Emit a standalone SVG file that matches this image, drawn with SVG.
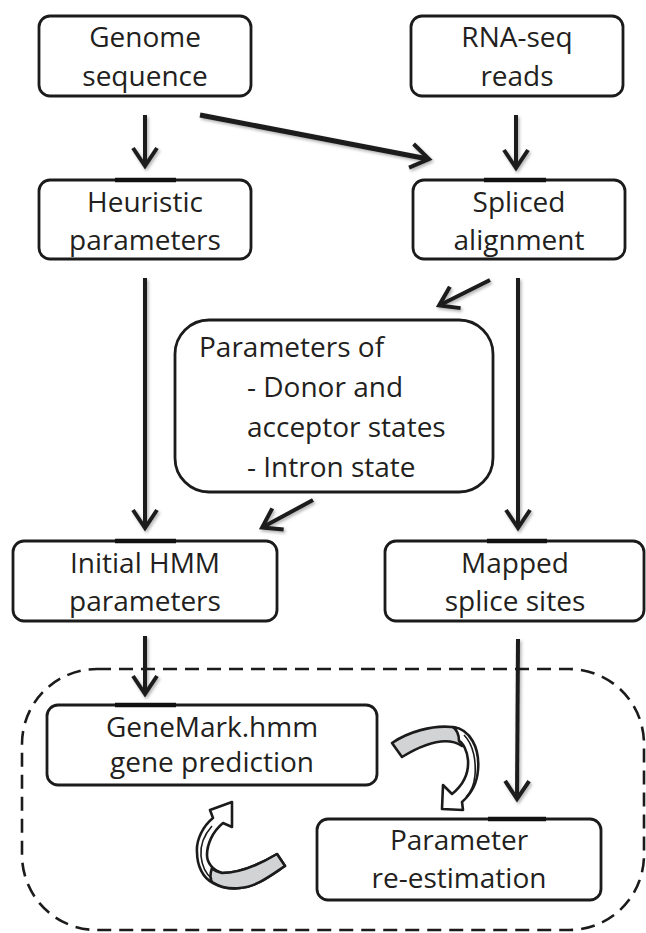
<svg xmlns="http://www.w3.org/2000/svg" width="646" height="933" viewBox="0 0 646 933">
<style>
.box{fill:#fff;stroke:#1b1b1b;stroke-width:2.8}
.tick{stroke:#111;stroke-width:4.5}
.t{font-family:"Open Sans","Liberation Sans",sans-serif;font-size:28px;fill:#231f20;text-anchor:middle}
.ts{font-family:"Open Sans","Liberation Sans",sans-serif;font-size:28px;fill:#231f20;text-anchor:start}
.c{stroke:#1b1b1b;stroke-width:4;fill:none;marker-end:url(#ah)}
.cw{stroke:#1b1b1b;stroke-width:5;fill:none;marker-end:url(#ah)}
.band{fill:#fff;stroke:#1b1b1b;stroke-width:2.6;stroke-linejoin:round}
.gray{fill:#d2d3d5;stroke:#1b1b1b;stroke-width:2.6;stroke-linejoin:round}
.edge{fill:none;stroke:#1b1b1b;stroke-width:1.6}
</style>
<defs>
<marker id="ah" viewBox="-3 -3 26 30" refX="17" refY="12" markerWidth="26" markerHeight="30" markerUnits="userSpaceOnUse" orient="auto" overflow="visible">
<path d="M0,0 L18,12 L0,24" fill="none" stroke="#1b1b1b" stroke-width="4"/>
</marker>
<filter id="sh" x="-20%" y="-20%" width="140%" height="140%">
<feDropShadow dx="1.5" dy="2" stdDeviation="1.5" flood-color="#000" flood-opacity="0.3"/>
</filter>
</defs>
<rect width="646" height="933" fill="#fff"/>

<g id="loop-boundary">
<rect x="22" y="669" width="622" height="261" rx="75" ry="75" fill="none" stroke="#1b1b1b" stroke-width="2.6" stroke-dasharray="14 8"/>
</g>

<g id="connectors" filter="url(#sh)">
<line class="c" x1="145" y1="115" x2="145" y2="165"/>
<line class="c" x1="516" y1="115" x2="516" y2="167"/>
<line class="cw" x1="200" y1="115" x2="428" y2="159"/>
<line class="c" x1="145" y1="278" x2="145" y2="527"/>
<line class="c" x1="518" y1="278" x2="518" y2="527"/>
<line class="c" x1="490" y1="280" x2="440" y2="305"/>
<line class="c" x1="313" y1="500" x2="263" y2="527"/>
<line class="c" x1="145" y1="636" x2="145" y2="693"/>
<line class="c" x1="518" y1="639" x2="517" y2="798"/>
</g>

<g id="genome">
<rect class="box" x="39" y="16" width="212" height="80" rx="11"/>
<text class="t" x="145" y="47">Genome</text>
<text class="t" x="145" y="86">sequence</text>
</g>

<g id="rnaseq">
<rect class="box" x="411" y="16" width="212" height="80" rx="11"/>
<text class="t" x="517" y="47">RNA-seq</text>
<text class="t" x="517" y="86">reads</text>
</g>

<g id="heuristic">
<rect class="box" x="39" y="180" width="212" height="79" rx="11"/>
<line class="tick" x1="115" y1="180" x2="176" y2="180"/>
<text class="t" x="145" y="212">Heuristic</text>
<text class="t" x="145" y="250">parameters</text>
</g>

<g id="spliced">
<rect class="box" x="413" y="180" width="212" height="79" rx="11"/>
<line class="tick" x1="484" y1="180" x2="546" y2="180"/>
<text class="t" x="519" y="212">Spliced</text>
<text class="t" x="519" y="250">alignment</text>
</g>

<g id="params-of">
<rect class="box" x="175" y="320" width="318" height="172" rx="34"/>
<text class="ts" x="199" y="357">Parameters of</text>
<text class="ts" x="247" y="397">- Donor and</text>
<text class="ts" x="247" y="437">acceptor states</text>
<text class="ts" x="247" y="477">- Intron state</text>
</g>

<g id="initial-hmm">
<rect class="box" x="13" y="541" width="264" height="80" rx="11"/>
<line class="tick" x1="115" y1="541" x2="176" y2="541"/>
<text class="t" x="145" y="573">Initial HMM</text>
<text class="t" x="145" y="611">parameters</text>
</g>

<g id="mapped">
<rect class="box" x="385" y="541" width="259" height="80" rx="11"/>
<line class="tick" x1="487" y1="541" x2="547" y2="541"/>
<text class="t" x="515" y="573">Mapped</text>
<text class="t" x="515" y="611">splice sites</text>
</g>

<g id="genemark">
<rect class="box" x="47" y="705" width="330" height="80" rx="11"/>
<line class="tick" x1="115" y1="705" x2="176" y2="705"/>
<text class="t" x="212" y="737">GeneMark.hmm</text>
<text class="t" x="212" y="772">gene prediction</text>
</g>

<g id="reestimation">
<rect class="box" x="317" y="819" width="284" height="81" rx="11"/>
<line class="tick" x1="488" y1="819" x2="546" y2="819"/>
<text class="t" x="459" y="850">Parameter</text>
<text class="t" x="459" y="888">re-estimation</text>
</g>

<g id="cycle-arrow-down">
<path class="gray" d="M392,743 C408,732 432,725 452,727 C460,728 466,733 468,740 L462,746 C450,738 430,740 402,757 Z"/>
<path class="band" d="M453,727 C470,729 480,748 478,770 C477,784 470,795 462,802 L463,810 L442,809 L443,785 L452,794 C462,786 469,774 468,760 C467,750 463,743 459,741 C459,735 457,730 453,727 Z"/>
<path class="edge" d="M464,735 C474,745 476,762 475,775 C474,786 470,793 466,797"/>
</g>

<g id="cycle-arrow-up">
<path class="band" d="M213,818 C203,826 196,840 197,852 C197,866 203,878 213,883 C222,888 232,889 240,888 C256,887 270,876 285,866 L277,854 C262,863 242,873 222,873 C212,870 207,862 207,855 C207,845 212,832 223,823 L232,827 L232,802 L210,810 Z"/>
<path class="gray" d="M212,882 C222,888 232,889 240,888 C256,887 270,876 285,866 L277,854 C262,863 242,873 222,873 C218,872 214,870 212,868 C210,874 210,879 212,882 Z"/>
<path class="edge" d="M212,826 C204,835 200,845 201,856 C202,866 206,874 212,879"/>
</g>
</svg>
